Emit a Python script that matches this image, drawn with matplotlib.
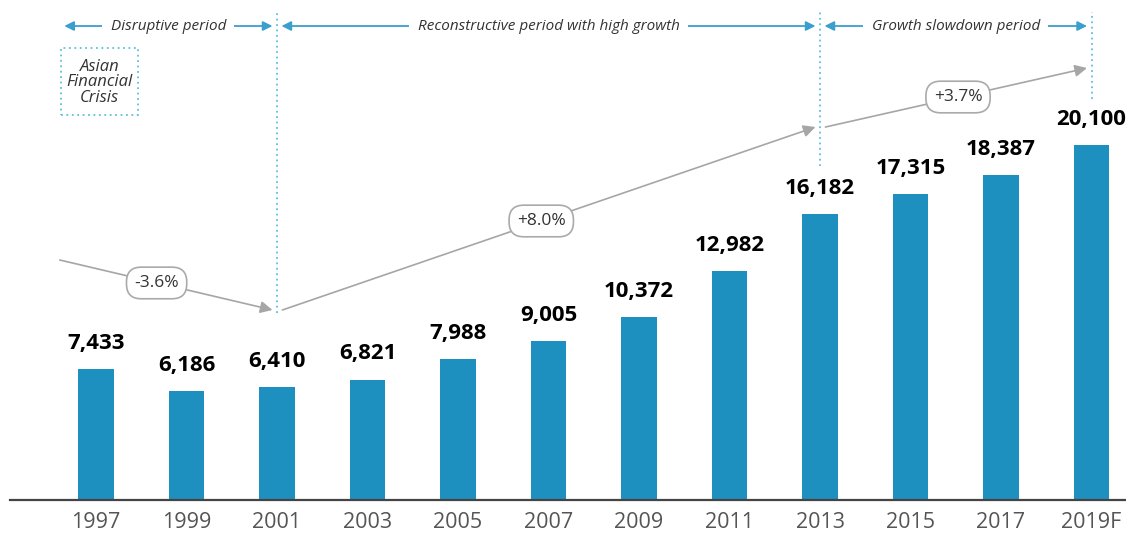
import matplotlib
matplotlib.use("Agg")
import matplotlib.pyplot as plt
from matplotlib.patches import Rectangle

plt.rcParams['font.family'] = ['Open Sans', 'DejaVu Sans']

# data
years = ['1997', '1999', '2001', '2003', '2005', '2007', '2009', '2011',
         '2013', '2015', '2017', '2019F']
values = [7433, 6186, 6410, 6821, 7988, 9005, 10372, 12982,
          16182, 17315, 18387, 20100]

# periods (start index, end index, label)
period_starts = [-0.4, 2, 8]
period_ends = [2, 8, 11]
period_labels = ['Disruptive period', 'Reconstructive period with high growth',
                 'Growth slowdown period']
period_lines = [2, 8, 11]
period_line_bottoms = [10600, 18900, 22700]

# growth trend arrows (x index, level)
trend_x = [-0.4, 2, 8, 11]
trend_y = [13590, 10760, 21120, 24460]
trend_labels = ['-3.6%', '+8.0%', '+3.7%']
trend_label_x = [0.67, 4.92, 9.525]
trend_label_y = [12290, 15800, 22820]

bar_color = '#1E90C0'
arrow_color = '#3A9FCF'
dot_color = '#5BC0DE'
gray = '#A6A6A6'

fig = plt.figure(figsize=(11.26, 5.36), dpi=100)
ax = fig.add_axes([10 / 1126, 36 / 536, 1116 / 1126, 500 / 536])
x = list(range(len(years)))
ax.bar(x, values, width=0.39, color=bar_color, zorder=2)
ax.set_xlim(-0.95, 11.381)
ax.set_ylim(0, 28313)

for xi, v in zip(x, values):
    ax.annotate(f'{v:,}', (xi, v), xytext=(0, 14.5), textcoords='offset points',
                ha='center', va='baseline', fontsize=16, fontweight='bold',
                color='black')

# axis styling
for s in ['top', 'right', 'left']:
    ax.spines[s].set_visible(False)
ax.spines['bottom'].set_color('#444444')
ax.spines['bottom'].set_linewidth(1.6)
ax.set_yticks([])
ax.set_xticks(x)
ax.set_xticklabels(years, fontsize=15.5, color='#555555')
ax.tick_params(axis='x', length=0, pad=9)

# period header
head_y = 26840
for xs, xe, lab in zip(period_starts, period_ends, period_labels):
    ax.annotate('', xy=(xe - 0.05, head_y), xytext=(xs + 0.05, head_y),
                arrowprops=dict(arrowstyle='<|-|>', color=arrow_color, lw=1.3,
                                mutation_scale=14, shrinkA=0, shrinkB=0))
    ax.text((xs + xe) / 2, head_y, lab, ha='center', va='center', fontsize=11,
            style='italic', color='#333333', zorder=5,
            bbox=dict(facecolor='white', edgecolor='none', pad=6))

for lx, lb in zip(period_lines, period_line_bottoms):
    ax.plot([lx, lx], [lb, 27650], color=dot_color, lw=1.3, ls=(0, (1, 2)),
            zorder=1)

# trend arrows
for i in range(len(trend_x) - 1):
    x0 = trend_x[i] + (0.06 if i > 0 else 0)
    ax.annotate('', xy=(trend_x[i + 1] - 0.05, trend_y[i + 1]),
                xytext=(x0, trend_y[i]),
                arrowprops=dict(arrowstyle='-|>', color=gray, lw=1.2,
                                mutation_scale=18, shrinkA=0, shrinkB=0))
for tx, ty, tl in zip(trend_label_x, trend_label_y, trend_labels):
    ax.text(tx, ty, tl, ha='center', va='center', fontsize=12.5, color='#333333',
            zorder=6,
            bbox=dict(boxstyle='round,pad=0.45,rounding_size=0.85',
                      facecolor='white', edgecolor='#AAAAAA', lw=1.2))

# crisis box
ax.add_patch(Rectangle((-0.387, 21800), 0.851, 3800, fill=False,
                       edgecolor=dot_color, lw=1.3, ls=(0, (1, 2)), zorder=3))
ax.text(0.04, 23650, 'Asian\nFinancial\nCrisis', ha='center', va='center',
        fontsize=12, style='italic', color='#333333', linespacing=0.95)

fig.savefig('out.png', dpi=100)
